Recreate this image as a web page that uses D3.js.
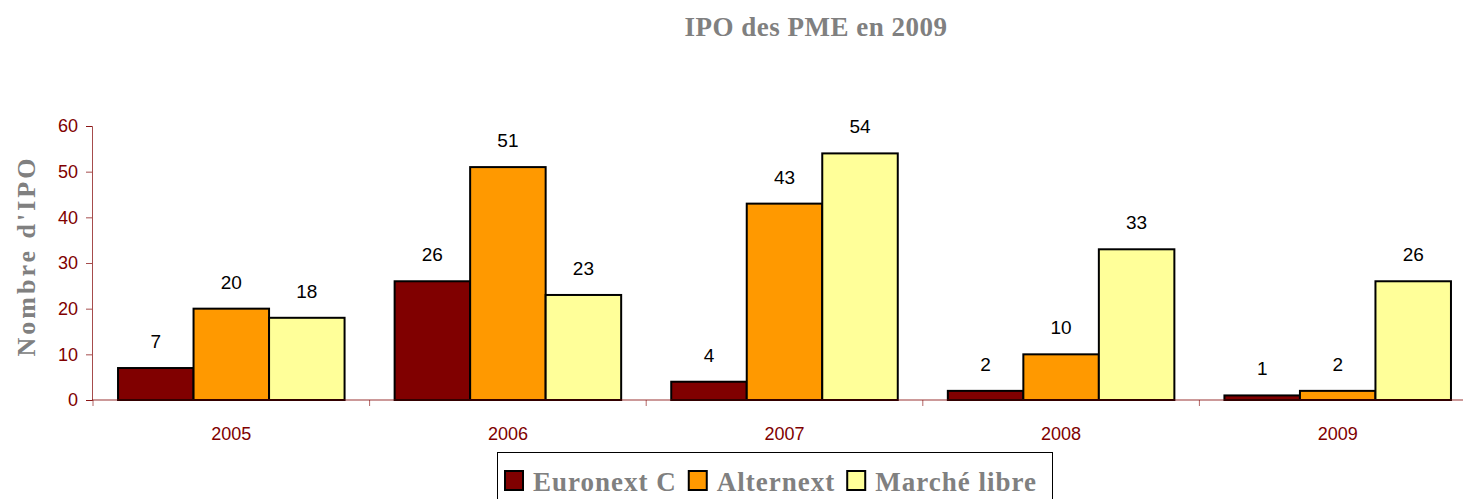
<!DOCTYPE html>
<html>
<head>
<meta charset="utf-8">
<script src="https://cdn.jsdelivr.net/npm/d3@7"></script>
<style>
  body { margin: 0; background: #fff; }
</style>
</head>
<body>
<script>
const years = ["2005", "2006", "2007", "2008", "2009"];
const series = ["Euronext C", "Alternext", "Marché libre"];
const euronextC = [7, 26, 4, 2, 1];
const alternext = [20, 51, 43, 10, 2];
const marcheLibre = [18, 23, 54, 33, 26];
const yTicks = [0, 10, 20, 30, 40, 50, 60];
const colors = ["#800000", "#ff9900", "#ffff99"];

const values = [euronextC, alternext, marcheLibre];
const width = 1463, height = 499;
const axisRed = "#800000";

const svg = d3.select("body").append("svg")
  .attr("width", width)
  .attr("height", height);

const x0 = d3.scaleBand().domain(years).range([93, 1476])
  .paddingInner(0.181).paddingOuter(0.0905);
const x1 = d3.scaleBand().domain(series).range([0, x0.bandwidth()]);
const y = d3.scaleLinear().domain([0, 60]).range([400, 126]);

// title
svg.append("text")
  .attr("x", 816).attr("y", 36)
  .attr("text-anchor", "middle")
  .attr("font-family", "Liberation Serif, serif")
  .attr("font-weight", "bold")
  .attr("font-size", 27)
  .attr("letter-spacing", 0.5)
  .attr("fill", "#808080")
  .text("IPO des PME en 2009");

// y axis title
svg.append("text")
  .attr("transform", "translate(35,256) rotate(-90)")
  .attr("text-anchor", "middle")
  .attr("font-family", "Liberation Serif, serif")
  .attr("font-weight", "bold")
  .attr("font-size", 26)
  .attr("letter-spacing", 3)
  .attr("fill", "#808080")
  .text("Nombre d'IPO");

// bars
const groups = svg.append("g").selectAll("g")
  .data(years)
  .join("g")
  .attr("transform", d => `translate(${x0(d)},0)`);

groups.selectAll("rect")
  .data((d, i) => series.map((s, j) => ({ s, j, v: values[j][i] })))
  .join("rect")
  .attr("x", d => x1(d.s))
  .attr("y", d => y(d.v))
  .attr("width", x1.bandwidth())
  .attr("height", d => y(0) - y(d.v))
  .attr("fill", d => colors[d.j])
  .attr("stroke", "#000")
  .attr("stroke-width", 2);

groups.selectAll("text")
  .data((d, i) => series.map((s, j) => ({ s, j, v: values[j][i] })))
  .join("text")
  .attr("x", d => x1(d.s) + x1.bandwidth() / 2)
  .attr("y", d => y(d.v) - 20)
  .attr("text-anchor", "middle")
  .attr("font-family", "Liberation Sans, Arial, sans-serif")
  .attr("font-size", 19)
  .attr("fill", "#000")
  .text(d => d.v);

// y axis
const yAxis = svg.append("g")
  .attr("transform", "translate(92,0)")
  .call(d3.axisLeft(y).tickValues(yTicks).tickSize(6).tickPadding(8));
yAxis.select(".domain").attr("stroke", axisRed).attr("stroke-opacity", 0.7);
yAxis.selectAll(".tick line").attr("stroke", axisRed).attr("stroke-opacity", 0.7);
yAxis.selectAll(".tick text")
  .attr("fill", axisRed)
  .attr("font-family", "Liberation Sans, Arial, sans-serif")
  .attr("font-size", 18);

// x axis
const xAxis = svg.append("g")
  .attr("transform", `translate(0,${y(0)})`);
xAxis.append("line")
  .attr("x1", 92).attr("x2", width)
  .attr("stroke", axisRed).attr("stroke-opacity", 0.8);
xAxis.selectAll("line.tk")
  .data(years)
  .join("line")
  .attr("class", "tk")
  .attr("x1", d => x0(d) - x0.step() * x0.paddingInner() / 2)
  .attr("x2", d => x0(d) - x0.step() * x0.paddingInner() / 2)
  .attr("y1", 0).attr("y2", 6)
  .attr("stroke", axisRed).attr("stroke-opacity", 0.6);
xAxis.selectAll("text")
  .data(years)
  .join("text")
  .attr("x", d => x0(d) + x0.bandwidth() / 2)
  .attr("y", 40)
  .attr("text-anchor", "middle")
  .attr("font-family", "Liberation Sans, Arial, sans-serif")
  .attr("font-size", 18)
  .attr("fill", axisRed)
  .text(d => d);

// legend
const legend = svg.append("g");
legend.append("rect")
  .attr("x", 497.5).attr("y", 452.5)
  .attr("width", 555).attr("height", 60)
  .attr("fill", "#fff").attr("stroke", "#000").attr("stroke-width", 1);
const items = legend.selectAll("g")
  .data(series)
  .join("g");
let lx = 505;
items.each(function (s, j) {
  const g = d3.select(this);
  g.append("rect")
    .attr("x", lx).attr("y", 471)
    .attr("width", 18).attr("height", 19)
    .attr("fill", colors[j]).attr("stroke", "#000").attr("stroke-width", 2);
  const t = g.append("text")
    .attr("x", lx + 28).attr("y", 491)
    .attr("font-family", "Liberation Serif, serif")
    .attr("font-weight", "bold")
    .attr("font-size", 27)
    .attr("letter-spacing", 1)
    .attr("fill", "#808080")
    .text(s);
  lx += 28 + t.node().getComputedTextLength() + 12;
});
</script>
</body>
</html>
